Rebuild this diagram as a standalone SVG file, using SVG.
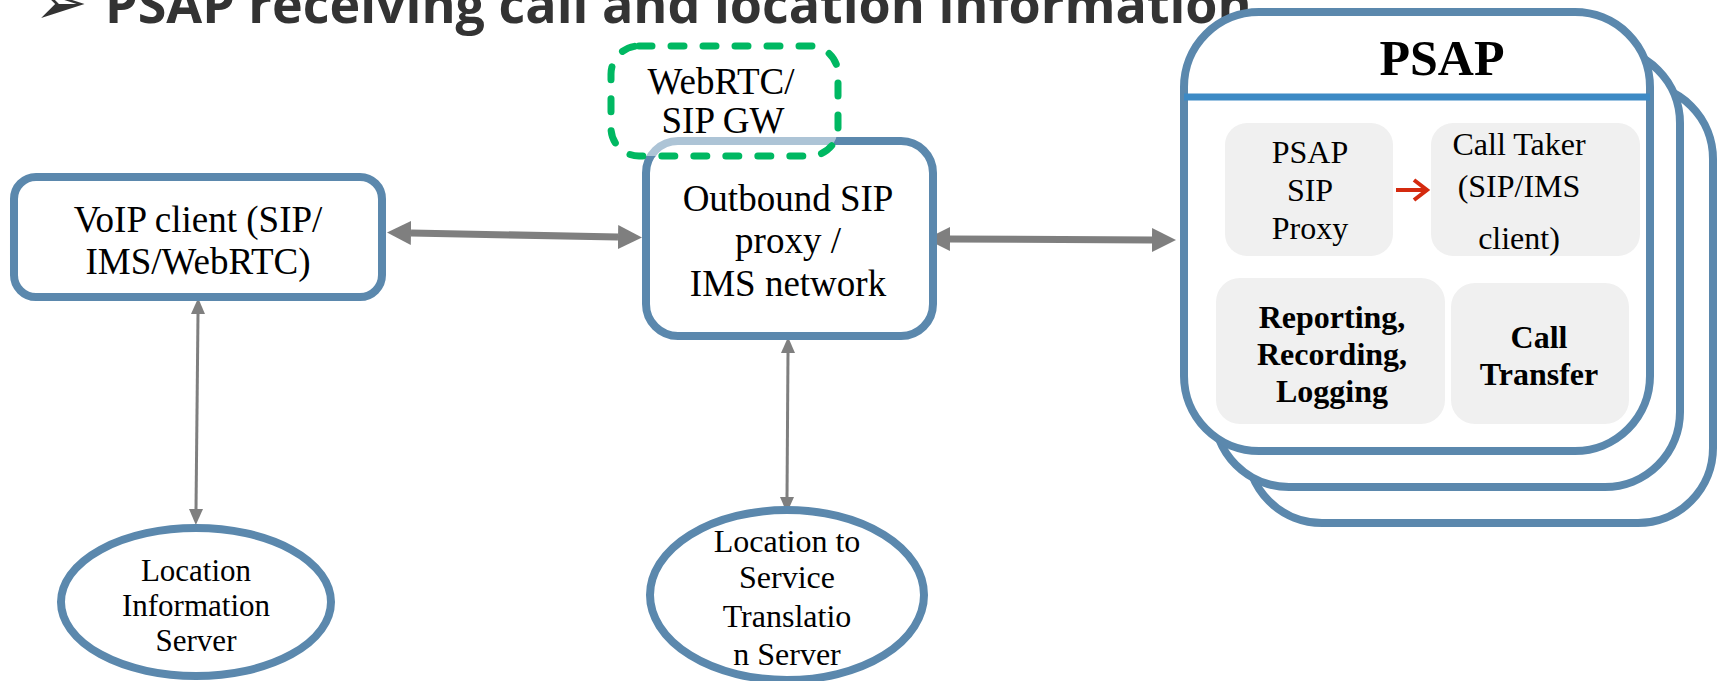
<svg xmlns="http://www.w3.org/2000/svg" width="1726" height="681" viewBox="0 0 1726 681">
<style>
.box{fill:#fff;stroke:#5b88ad;stroke-width:8}
.inner{fill:#f0f0f0;stroke:none}
.t{font-family:"Liberation Serif",serif;fill:#000;text-anchor:middle}
.b{font-weight:bold}
.thick{stroke:#7f7f7f;stroke-width:7;fill:none}
.thin{stroke:#7f7f7f;stroke-width:3;fill:none}
</style>
<defs>
<marker id="hb" markerUnits="userSpaceOnUse" markerWidth="26" markerHeight="26" refX="0" refY="12" orient="auto-start-reverse"><path d="M0,0 L24,12 L0,24 z" fill="#7f7f7f"/></marker>
<marker id="hs" markerUnits="userSpaceOnUse" markerWidth="18" markerHeight="16" refX="0" refY="7" orient="auto-start-reverse"><path d="M0,0 L16,7 L0,14 z" fill="#7f7f7f"/></marker>
</defs>
<g id="title">
<text x="34" y="24" font-family="DejaVu Sans,sans-serif" font-size="64" fill="#333">➢</text>
<text x="105" y="23" font-family="Open Sans,sans-serif" font-weight="bold" font-size="52" fill="#333">PSAP receiving call and location information</text>
</g>
<g id="connectors">
<path class="thick" d="M411,233 L618,237" marker-start="url(#hb)" marker-end="url(#hb)"/>
<path class="thick" d="M950,239 L1152,240" marker-start="url(#hb)" marker-end="url(#hb)"/>
<path class="thin" d="M198,314 L196,509" marker-start="url(#hs)" marker-end="url(#hs)"/>
<path class="thin" d="M788,353 L787,497" marker-start="url(#hs)" marker-end="url(#hs)"/>
</g>
<g id="voip">
<rect class="box" x="14" y="177" width="368" height="120" rx="22"/>
<text class="t" font-size="37" x="198" y="232">VoIP client (SIP/</text>
<text class="t" font-size="37" x="198" y="274">IMS/WebRTC)</text>
</g>
<g id="outbound">
<rect class="box" x="646" y="141" width="287" height="195" rx="32"/>
<text class="t" font-size="37" x="788" y="211">Outbound SIP</text>
<text class="t" font-size="37" x="788" y="253">proxy /</text>
<text class="t" font-size="37" x="788" y="296">IMS network</text>
</g>
<g id="gateway">
<rect x="611" y="46" width="227" height="110" rx="28" fill="#fff" fill-opacity="0.5" stroke="#00b862" stroke-width="7" stroke-dasharray="13 19" stroke-linecap="round"/>
<text class="t" font-size="37" x="721" y="94">WebRTC/</text>
<text class="t" font-size="37" x="723" y="133">SIP GW</text>
</g>
<g id="lis">
<ellipse class="box" cx="196" cy="602" rx="135" ry="74"/>
<text class="t" font-size="31" x="196" y="581">Location</text>
<text class="t" font-size="31" x="196" y="616">Information</text>
<text class="t" font-size="31" x="196" y="651">Server</text>
</g>
<g id="lost">
<ellipse class="box" cx="787" cy="595" rx="137" ry="85"/>
<text class="t" font-size="32" x="787" y="552">Location to</text>
<text class="t" font-size="32" x="787" y="588">Service</text>
<text class="t" font-size="32" x="787" y="627">Translatio</text>
<text class="t" font-size="32" x="787" y="665">n Server</text>
</g>
<g id="psap">
<rect class="box" x="1247" y="84" width="466" height="439" rx="75"/>
<rect class="box" x="1214" y="48" width="466" height="439" rx="75"/>
<rect class="box" x="1184" y="12" width="466" height="439" rx="75"/>
<line x1="1184" y1="97" x2="1650" y2="97" stroke="#3d8ac5" stroke-width="7"/>
<text class="t b" font-size="50" x="1442" y="75">PSAP</text>
<rect class="inner" x="1225" y="123" width="168" height="133" rx="22"/>
<text class="t" font-size="32" x="1310" y="163">PSAP</text>
<text class="t" font-size="32" x="1310" y="201">SIP</text>
<text class="t" font-size="32" x="1310" y="239">Proxy</text>
<rect class="inner" x="1431" y="123" width="209" height="133" rx="22"/>
<text class="t" font-size="32" x="1519" y="155">Call Taker</text>
<text class="t" font-size="32" x="1519" y="197">(SIP/IMS</text>
<text class="t" font-size="32" x="1519" y="249">client)</text>
<rect class="inner" x="1216" y="278" width="229" height="146" rx="24"/>
<text class="t b" font-size="32" x="1332" y="328">Reporting,</text>
<text class="t b" font-size="32" x="1332" y="365">Recording,</text>
<text class="t b" font-size="32" x="1332" y="402">Logging</text>
<rect class="inner" x="1451" y="283" width="178" height="141" rx="24"/>
<text class="t b" font-size="32" x="1539" y="348">Call</text>
<text class="t b" font-size="32" x="1539" y="385">Transfer</text>
<path d="M1396,190 L1426,190 M1414,180 L1427,190 L1414,200" fill="none" stroke="#d42a0f" stroke-width="4"/>
</g>
</svg>
